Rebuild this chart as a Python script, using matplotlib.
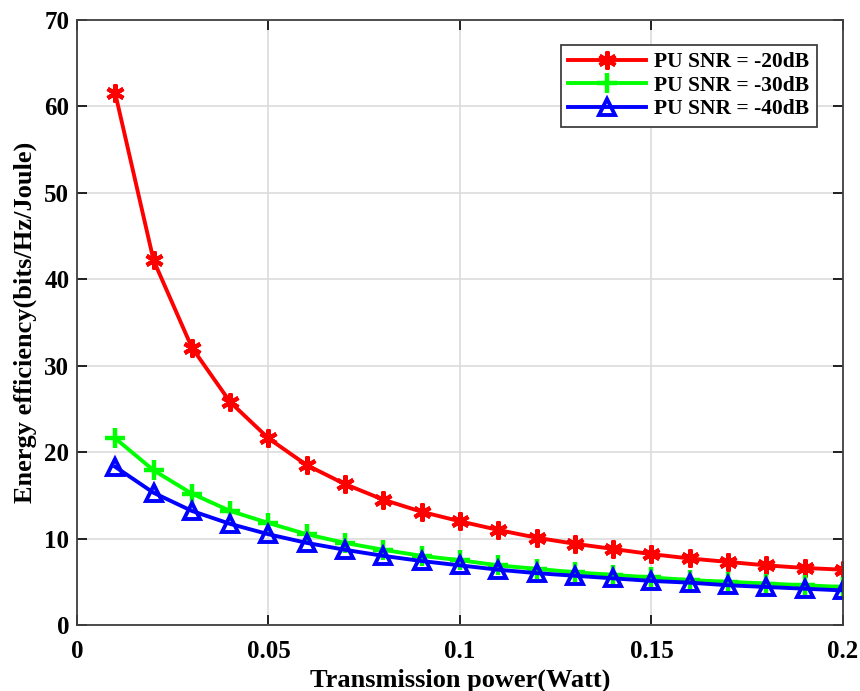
import matplotlib
matplotlib.use("Agg")
import matplotlib.pyplot as plt

power = [0.01, 0.02, 0.03, 0.04, 0.05, 0.06, 0.07, 0.08, 0.09, 0.10,
         0.11, 0.12, 0.13, 0.14, 0.15, 0.16, 0.17, 0.18, 0.19, 0.20]
ee_20 = [61.5, 42.2, 32.1, 25.8, 21.6, 18.5, 16.3, 14.5, 13.1, 12.0,
         11.0, 10.1, 9.4, 8.8, 8.2, 7.7, 7.3, 6.9, 6.6, 6.4]
ee_30 = [21.6, 17.9, 15.2, 13.2, 11.8, 10.5, 9.5, 8.7, 8.0, 7.5,
         6.9, 6.5, 6.1, 5.8, 5.5, 5.2, 5.0, 4.8, 4.6, 4.4]
ee_40 = [18.3, 15.3, 13.2, 11.7, 10.5, 9.5, 8.7, 8.0, 7.4, 6.9,
         6.4, 6.0, 5.7, 5.4, 5.1, 4.9, 4.6, 4.4, 4.2, 4.0]
labels = ["PU SNR = -20dB", "PU SNR = -30dB", "PU SNR = -40dB"]
xticks = [0, 0.05, 0.1, 0.15, 0.2]
xticklabels = ["0", "0.05", "0.1", "0.15", "0.2"]
yticks = [0, 10, 20, 30, 40, 50, 60, 70]

plt.rcParams['font.family'] = ['Liberation Serif', 'DejaVu Serif']
plt.rcParams['font.weight'] = 'bold'

fig = plt.figure(figsize=(8.6, 6.91), dpi=100)
ax = fig.add_axes([0.0895, 0.0955, 0.8907, 0.8755])

ax.plot(power, ee_20, color='#ff0000', lw=2.8, marker=(6, 2, 0), ms=13, mew=3, label=labels[0])
ax.plot(power, ee_30, color='#00ff00', lw=2.8, marker='+', ms=14, mew=3.2, label=labels[1])
ax.plot(power, ee_40, color='#0000ff', lw=2.8, marker='^', ms=12, mew=2.8, mfc='none', label=labels[2])

ax.set_xlim(0, 0.2)
ax.set_ylim(0, 70)
ax.set_xticks(xticks)
ax.set_xticklabels(xticklabels)
ax.set_yticks(yticks)
ax.grid(True, color='#dcdcdc', lw=1.2)
ax.set_axisbelow(True)
ax.tick_params(direction='in', labelsize=18, length=7, width=1.2, top=True, right=True)
ax.tick_params(axis='x', pad=11)
ax.tick_params(axis='y', pad=5.5)
for lab in ax.get_xticklabels() + ax.get_yticklabels():
    lab.set_fontweight('bold')
for s in ax.spines.values():
    s.set_color('#404040')
    s.set_linewidth(1.3)

ax.set_xlabel("Transmission power(Watt)", fontsize=19, fontweight='bold', labelpad=3.6)
ax.set_ylabel("Energy efficiency(bits/Hz/Joule)", fontsize=19, fontweight='bold', labelpad=5.5)

leg = ax.legend(loc='upper right', bbox_to_anchor=(0.966, 0.959), fontsize=15.5, fancybox=False,
                edgecolor='#404040', framealpha=1, handlelength=3.6, borderpad=0.35,
                labelspacing=0.15, handletextpad=0.4, borderaxespad=0)
leg.get_frame().set_linewidth(1.3)
for t in leg.get_texts():
    t.set_fontweight('bold')

fig.savefig("out.png", dpi=100)
